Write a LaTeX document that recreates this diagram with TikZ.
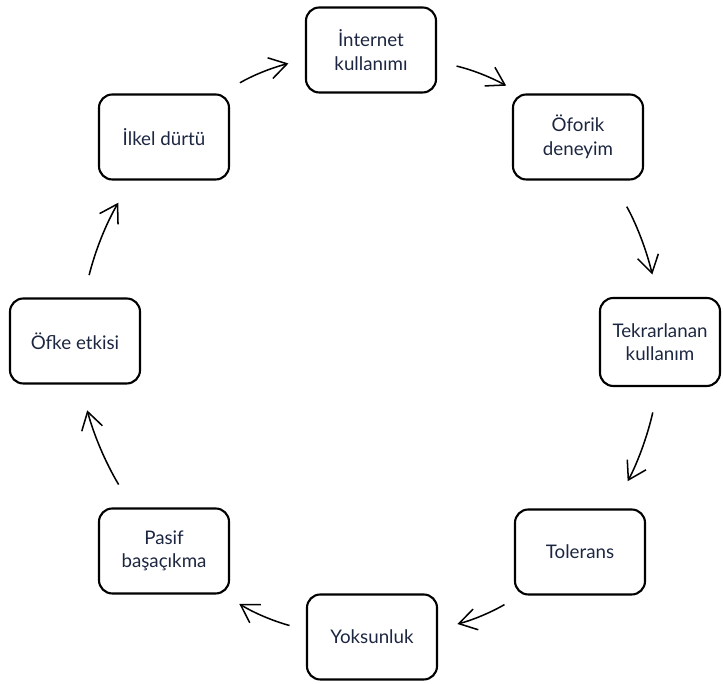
\documentclass[tikz,border=0pt]{standalone}
\usepackage{fontspec}
\setmainfont{Lato}
\usetikzlibrary{arrows.meta}
\definecolor{yazi}{HTML}{1C2640}

\begin{document}
\begin{tikzpicture}[x=0.03cm,y=0.03cm,
  kutu/.style={draw,line width=1.8pt,rounded corners=4mm,minimum width=3.9cm,
    minimum height=2.55cm,align=center,text=yazi,font=\fontsize{16}{20}\selectfont},
  ok/.style={line width=1.3pt,-{Straight Barb[length=5.2mm,width=6.4mm]},bend left=8}]
  \useasboundingbox (0,0) rectangle (723,684);

  \node[kutu] (ilkel) at (164,547) {İlkel dürtü};
  \node[kutu] (internet) at (371,634) {İnternet\\kullanımı};
  \node[kutu] (oforik) at (578,547) {Öforik\\deneyim};
  \node[kutu,minimum width=3.6cm,minimum height=2.64cm] (tekrar) at (660,342) {Tekrarlanan\\kullanım};
  \node[kutu] (tolerans) at (580,132) {Tolerans};
  \node[kutu] (yoksun) at (372,47) {Yoksunluk};
  \node[kutu] (pasif) at (164,133) {Pasif\\başaçıkma};
  \node[kutu] (ofke) at (75,343) {Öfke etkisi};

  \draw[ok,shorten <=6.3mm,shorten >=5.1mm] (ilkel.37) to (internet.188);
  \draw[ok,shorten <=6mm,shorten >=4.8mm] (internet.-10) to (oforik.143);
  \draw[ok,shorten <=9mm,shorten >=6.9mm] (oforik.-52) to (tekrar.93);
  \draw[ok,shorten <=7.8mm,shorten >=9.3mm] (tekrar.-92) to (tolerans.53);
  \draw[ok,shorten <=5.4mm,shorten >=6mm] (tolerans.216) to (yoksun.7);
  \draw[ok,shorten <=5.1mm,shorten >=5.4mm] (yoksun.174) to (pasif.-36);
  \draw[ok,shorten <=8mm,shorten >=8mm] (pasif.126) to (ofke.-83);
  \draw[ok,shorten <=6.9mm,shorten >=7.7mm] (ofke.79) to (ilkel.233);
\end{tikzpicture}
\end{document}
